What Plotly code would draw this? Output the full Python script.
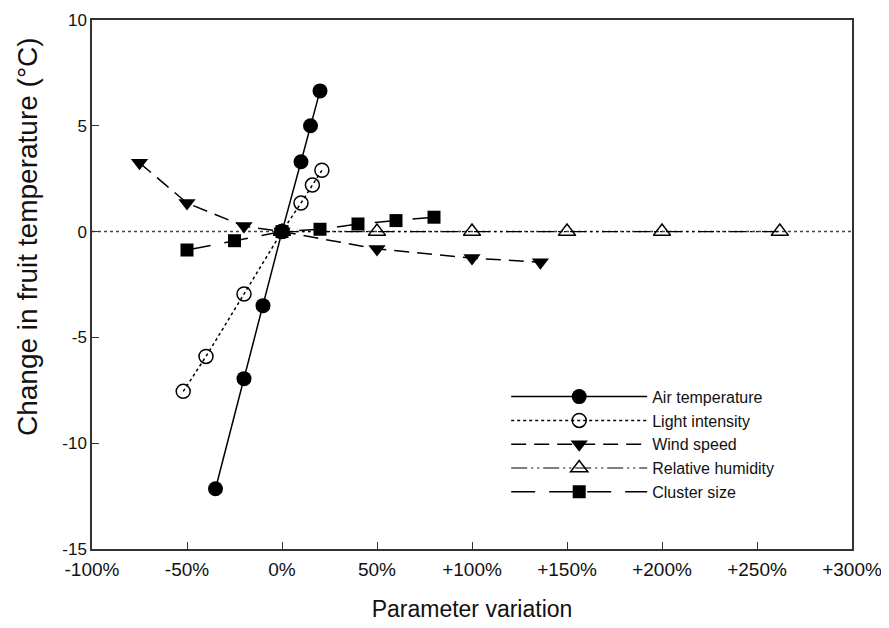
import plotly.graph_objects as go

# Data
air_x = [-35, -20, -10, 0, 10, 15, 20]
air_y = [-12.15, -6.95, -3.5, 0, 3.3, 5.0, 6.65]

light_x = [-52, -40, -20, 0, 10, 16, 21]
light_y = [-7.55, -5.9, -2.95, 0, 1.35, 2.2, 2.9]

wind_x = [-75, -50, -20, 0, 50, 100, 136]
wind_y = [3.25, 1.35, 0.26, 0, -0.82, -1.25, -1.45]

rh_x = [0, 50, 100, 150, 200, 262]
rh_y = [0, 0, 0, 0, 0, 0]

cluster_x = [-50, -25, 0, 20, 40, 60, 80]
cluster_y = [-0.87, -0.43, 0, 0.11, 0.36, 0.52, 0.68]

x_tickvals = [-100, -50, 0, 50, 100, 150, 200, 250, 300]
x_ticktext = ["-100%", "-50%", "0%", "50%", "+100%", "+150%", "+200%", "+250%", "+300%"]
y_tickvals = [-15, -10, -5, 0, 5, 10]
y_ticktext = ["-15", "-10", "-5", "0", "5", "10"]

fig = go.Figure()

fig.add_trace(go.Scatter(
    x=air_x, y=air_y, name="Air temperature", mode="lines+markers",
    line=dict(color="black", width=1.5, dash="solid"),
    marker=dict(symbol="circle", size=15, color="black")))

fig.add_trace(go.Scatter(
    x=light_x, y=light_y, name="Light intensity", mode="lines+markers",
    line=dict(color="black", width=1.5, dash="dot"),
    marker=dict(symbol="circle-open", size=14, color="black", line=dict(width=1.5))))

fig.add_trace(go.Scatter(
    x=wind_x, y=wind_y, name="Wind speed", mode="lines+markers",
    line=dict(color="black", width=1.5, dash="15px,8px"),
    marker=dict(symbol="triangle-down", size=15, color="black")))

fig.add_trace(go.Scatter(
    x=rh_x, y=rh_y, name="Relative humidity", mode="lines+markers",
    line=dict(color="black", width=1.2, dash="16px,4px,2px,4px,2px,4px"),
    marker=dict(symbol="triangle-up-open", size=15, color="black", line=dict(width=1.5))))

fig.add_trace(go.Scatter(
    x=cluster_x, y=cluster_y, name="Cluster size", mode="lines+markers",
    line=dict(color="black", width=1.5, dash="24px,14px"),
    marker=dict(symbol="square", size=13, color="black")))

fig.add_shape(type="line", xref="paper", x0=0, x1=1, yref="y", y0=0, y1=0,
              line=dict(color="#444", width=1.5, dash="dot"), layer="below")

fig.add_annotation(text="Change in fruit temperature (°C)", textangle=-90,
                   xref="paper", yref="paper", x=-0.084, y=0.59,
                   xanchor="center", yanchor="middle", showarrow=False,
                   font=dict(size=28, color="#111"))

fig.update_layout(
    width=889, height=628,
    margin=dict(l=84, r=45, t=12, b=87),
    paper_bgcolor="white", plot_bgcolor="white",
    font=dict(family="Liberation Sans, Arial, sans-serif", size=18, color="#111"),
    showlegend=True,
    legend=dict(x=0.545, y=0.32, xanchor="left", yanchor="top",
                bgcolor="rgba(0,0,0,0)", font=dict(size=16),
                itemwidth=136, tracegroupgap=0),
    xaxis=dict(range=[-100, 300], tickvals=x_tickvals, ticktext=x_ticktext,
               ticks="inside", ticklen=7, tickcolor="#333", tickwidth=1.2,
               showline=True, linecolor="#333", linewidth=1.5, mirror=True,
               showgrid=False, zeroline=False, automargin=False,
               ticklabelstandoff=2,
               title=dict(text="Parameter variation", font=dict(size=23), standoff=22),
               tickfont=dict(size=19)),
    yaxis=dict(range=[-15, 10], tickvals=y_tickvals, ticktext=y_ticktext,
               ticks="inside", ticklen=7, tickcolor="#333", tickwidth=1.2,
               showline=True, linecolor="#333", linewidth=1.5, mirror=True,
               showgrid=False, zeroline=False, automargin=False,
               tickfont=dict(size=17)),
)

fig.write_html("out.html")
